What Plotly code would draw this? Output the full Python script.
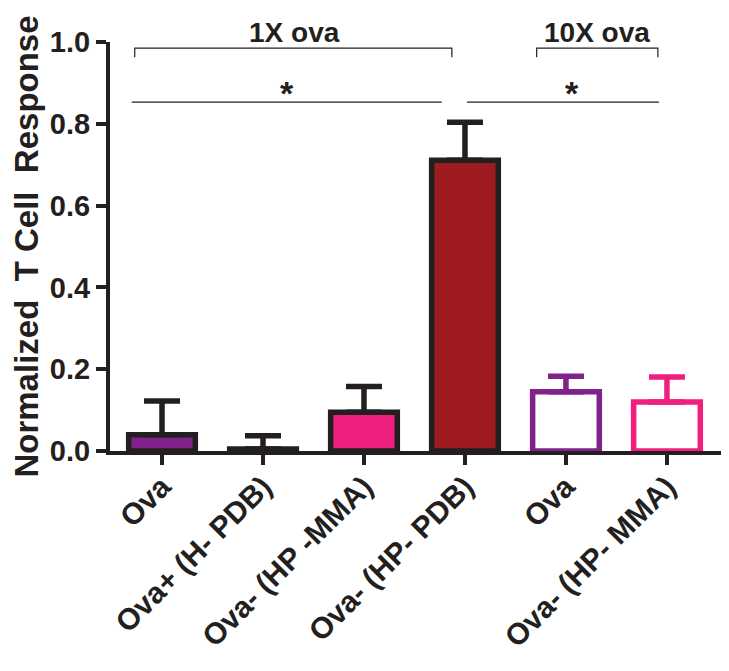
import plotly.graph_objects as go

categories = ["Ova", "Ova+ (H- PDB)", "Ova- (HP -MMA)", "Ova- (HP- PDB)", "Ova", "Ova- (HP- MMA)"]
values = [0.040, 0.005, 0.095, 0.711, 0.145, 0.120]
errors = [0.082, 0.032, 0.063, 0.093, 0.038, 0.061]
fill_colors = ["#80228A", "#231F20", "#EE1F7F", "#9E1B20", "#FFFFFF", "#FFFFFF"]
line_colors = ["#231F20", "#231F20", "#231F20", "#231F20", "#80228A", "#EE1F7F"]
y_ticks = [0, 0.2, 0.4, 0.6, 0.8, 1.0]
y_ticklabels = ["0.0", "0.2", "0.4", "0.6", "0.8", "1.0"]

FONT = "Liberation Sans, Arial, sans-serif"
INK = "#231F20"

fig = go.Figure()
for i, (v, e, fc, lc) in enumerate(zip(values, errors, fill_colors, line_colors)):
    fig.add_trace(go.Bar(
        x=[i], y=[v], width=0.66,
        marker=dict(color=fc, line=dict(color=lc, width=5.5)),
        error_y=dict(type="data", array=[e], arrayminus=[0], symmetric=False,
                     color=lc, thickness=5.5, width=18),
        showlegend=False,
    ))

LINE = dict(color=INK, width=1.2)
# group brackets
for x0, x1 in [(-0.27, 2.87), (3.71, 4.91)]:
    fig.add_shape(type="path", xref="x", yref="y",
                  path=f"M {x0},0.963 L {x0},0.985 L {x1},0.985 L {x1},0.963",
                  line=LINE)
# significance lines
for x0, x1 in [(-0.30, 2.77), (3.02, 4.92)]:
    fig.add_shape(type="line", xref="x", yref="y", x0=x0, x1=x1, y0=0.853, y1=0.853, line=LINE)

ann_font = dict(family=FONT, size=28, color=INK)
fig.add_annotation(x=1.31, y=1.024, xref="x", yref="paper", yanchor="middle", text="<b>1X ova</b>",
                   showarrow=False, font=ann_font)
fig.add_annotation(x=4.31, y=1.024, xref="x", yref="paper", yanchor="middle", text="<b>10X ova</b>",
                   showarrow=False, font=ann_font)
star_font = dict(family=FONT, size=34, color=INK)
fig.add_annotation(x=1.24, y=0.875, xref="x", yref="paper", yanchor="middle", text="<b>*</b>",
                   showarrow=False, font=star_font)
fig.add_annotation(x=4.06, y=0.875, xref="x", yref="paper", yanchor="middle", text="<b>*</b>",
                   showarrow=False, font=star_font)

# page body has an 8px margin: figure is sized so the window shows the same layout
fig.update_layout(
    width=721, height=663,
    margin=dict(l=102, r=7, t=34, b=220),
    plot_bgcolor="white", paper_bgcolor="white",
    barmode="overlay",
    font=dict(family=FONT, color=INK),
)
fig.update_xaxes(
    range=[-0.515, 5.545], automargin=False,
    tickmode="array", tickvals=list(range(len(categories))),
    ticktext=[f"<b>{c}</b>" for c in categories],
    tickangle=-45, tickfont=dict(size=30, family=FONT, color=INK),
    ticklabelstandoff=-8,
    showline=True, linecolor=INK, linewidth=4,
    ticks="outside", ticklen=10, tickwidth=4, tickcolor=INK,
    showgrid=False, zeroline=False,
)
fig.update_yaxes(
    range=[0, 1.0], automargin=False,
    tickmode="array", tickvals=y_ticks,
    ticktext=[f"<b>{t}</b>" for t in y_ticklabels],
    tickfont=dict(size=29, family=FONT, color=INK),
    showline=True, linecolor=INK, linewidth=4,
    ticks="outside", ticklen=10, tickwidth=4, tickcolor=INK,
    showgrid=False, zeroline=False,
    title=dict(text="<b>Normalized\u00a0 T Cell\u00a0 Response</b>",
               font=dict(size=33, family=FONT, color=INK), standoff=6),
)

fig.write_html("out.html")
